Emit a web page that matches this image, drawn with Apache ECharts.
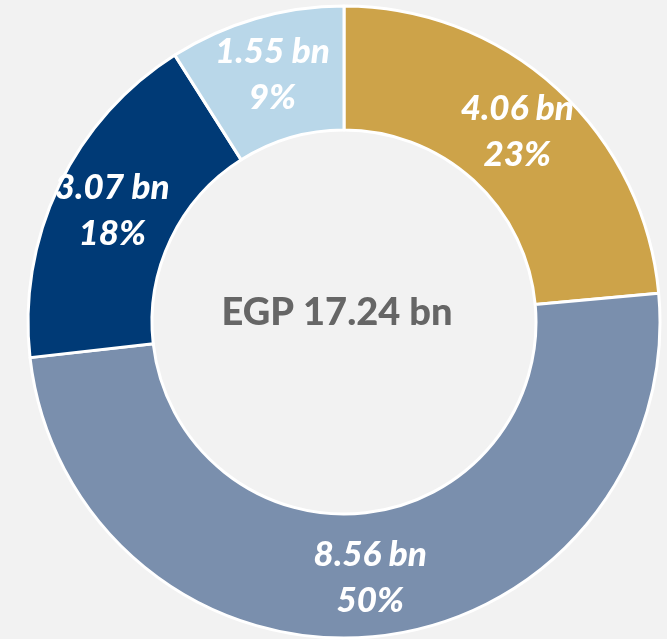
<!DOCTYPE html>
<html><head><meta charset="utf-8">
<script src="https://cdn.jsdelivr.net/npm/echarts@6/dist/echarts.min.js"></script>
<style>html,body{margin:0;padding:0;background:#F2F2F2;}#c{width:667px;height:639px;}</style>
</head><body><div id="c"></div>
<script>
const categories = ['A', 'B', 'C', 'D'];
const values = [4.06, 8.56, 3.07, 1.55];
const percents = [23, 50, 18, 9];
const colors = ['#CDA349', '#7A8FAD', '#003A76', '#B9D7E9'];
const totalLabel = 'EGP 17.24 bn';

const chart = echarts.init(document.getElementById('c'));
chart.setOption({
  backgroundColor: '#F2F2F2',
  animation: false,
  graphic: [{
    type: 'text', x: 337, y: 313,
    style: { text: totalLabel, fill: '#666666', font: '900 38px Lato', align: 'center', verticalAlign: 'middle' }
  }],
  series: [{
    type: 'pie',
    center: [344, 322],
    radius: [192, 316],
    startAngle: 90,
    clockwise: true,
    avoidLabelOverlap: false,
    itemStyle: { borderColor: '#FFFFFF', borderWidth: 3 },
    label: {
      show: true, position: 'inside',
      color: '#FFFFFF', fontFamily: 'Lato', fontWeight: 900, fontStyle: 'italic',
      fontSize: 35, lineHeight: 46, padding: [6, 0, 0, 0],
      formatter: p => values[p.dataIndex].toFixed(2) + ' bn\n' + percents[p.dataIndex] + '%'
    },
    labelLine: { show: false },
    data: categories.map((c, i) => ({ name: c, value: values[i], itemStyle: { color: colors[i] } }))
  }]
});
</script></body></html>
